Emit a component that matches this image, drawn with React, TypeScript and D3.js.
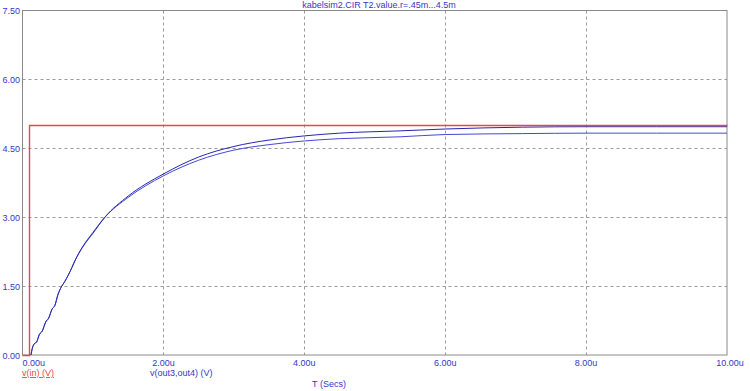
import React from "react";
import * as d3 from "d3";

const title = "kabelsim2.CIR T2.value.r=.45m...4.5m";
const yTicks = [0, 1.5, 3, 4.5, 6, 7.5];
const xTicks = [0, 2, 4, 6, 8, 10];

const vinT = [0, 0.1, 0.1, 10];
const vinV = [0, 0, 5, 5];

const aT = [0.12, 0.14, 0.17, 0.2, 0.24, 0.28, 0.33, 0.37, 0.42, 0.46, 0.5, 0.54, 0.6, 0.65, 0.7, 0.75, 0.85, 1.0, 1.17, 1.5, 2.0, 2.5, 3.0, 3.5, 4.0, 4.5, 5.36, 6.0, 7.1, 8.0, 9.0, 10.0];
const aV = [0, 0.15, 0.25, 0.28, 0.45, 0.52, 0.72, 0.8, 1.0, 1.08, 1.3, 1.45, 1.6, 1.74, 1.9, 2.07, 2.34, 2.65, 3.0, 3.46, 3.94, 4.31, 4.54, 4.68, 4.77, 4.83, 4.88, 4.92, 4.96, 4.97, 4.97, 4.97];

const bT = [0.12, 0.14, 0.17, 0.2, 0.24, 0.28, 0.33, 0.37, 0.42, 0.46, 0.5, 0.54, 0.6, 0.65, 0.7, 0.75, 0.85, 1.0, 1.17, 1.5, 2.0, 2.5, 3.0, 3.5, 4.0, 4.5, 5.36, 6.0, 7.1, 8.0, 9.0, 10.0];
const bV = [0, 0.15, 0.25, 0.28, 0.45, 0.52, 0.72, 0.8, 1.0, 1.08, 1.3, 1.45, 1.6, 1.74, 1.9, 2.07, 2.35, 2.67, 3.0, 3.43, 3.90, 4.24, 4.46, 4.58, 4.66, 4.71, 4.75, 4.80, 4.82, 4.83, 4.83, 4.83];

const W = 750, H = 391;
const L = 22.5, R = 727, T = 10.5, B = 355;
const font = "'Liberation Sans', Arial, sans-serif";
const blue = "#3636c8";
const red = "#e64848";

export default function App() {
  const x = d3.scaleLinear().domain([0, 10]).range([L, R]);
  const y = d3.scaleLinear().domain([0, 7.5]).range([B, T]);
  const snap = (v: number) => Math.round(v - 0.5) + 0.5;
  const line = d3.line<[number, number]>().x(d => snap(x(d[0]))).y(d => snap(y(d[1])));
  const smooth = d3.line<[number, number]>().x(d => x(d[0])).y(d => y(d[1])).curve(d3.curveMonotoneX);
  const zip = (ts: number[], vs: number[]) => ts.map((t, i) => [t, vs[i]] as [number, number]);

  return (
    <svg width={W} height={H} style={{ position: "absolute", left: 0, top: 0, background: "#fff" }}>
      <rect x={0} y={0} width={W} height={H} fill="#fff" />
      {yTicks.filter(v => v > 0 && v < 7.5).map(v => (
        <line key={"gy" + v} x1={L} x2={R} y1={snap(y(v))} y2={snap(y(v))} stroke="#9a9a9a" strokeDasharray="3,3" />
      ))}
      {xTicks.filter(v => v > 0 && v < 10).map(v => (
        <line key={"gx" + v} y1={T} y2={B} x1={snap(x(v))} x2={snap(x(v))} stroke="#9a9a9a" strokeDasharray="3,3" />
      ))}
      <rect x={L} y={T} width={R - L} height={B - T} fill="none" stroke="#8a8a8a" />
      <path d={smooth(zip(bT, bV)) || ""} fill="none" stroke="#4646d8" strokeWidth={1} />
      <path d={smooth(zip(aT, aV)) || ""} fill="none" stroke="#2626b0" strokeWidth={1} />
      <path d={line(zip(vinT, vinV)) || ""} fill="none" stroke={red} strokeWidth={1.4} />
      {yTicks.map(v => (
        <text key={"ty" + v} x={20} y={y(v) + 3.5} textAnchor="end" fontFamily={font} fontSize={9} fill={blue}>{v.toFixed(2)}</text>
      ))}
      {xTicks.map(v => (
        <text key={"tx" + v} x={v === 0 ? x(v) : x(v) + (v === 10 ? 3 : 0)} y={365.5} textAnchor={v === 0 ? "start" : "middle"} fontFamily={font} fontSize={9} fill={blue}>{v.toFixed(2) + "u"}</text>
      ))}
      <text x={W / 2 + 4} y={8} textAnchor="middle" fontFamily={font} fontSize={9} fill={blue}>{title}</text>
      <text x={22} y={376} fontFamily={font} fontSize={9} fill={red} textDecoration="underline">v(in) (V)</text>
      <text x={150} y={376} fontFamily={font} fontSize={9} fill={blue}>v(out3,out4) (V)</text>
      <text x={329} y={387} textAnchor="middle" fontFamily={font} fontSize={9} fill={blue}>T (Secs)</text>
    </svg>
  );
}
